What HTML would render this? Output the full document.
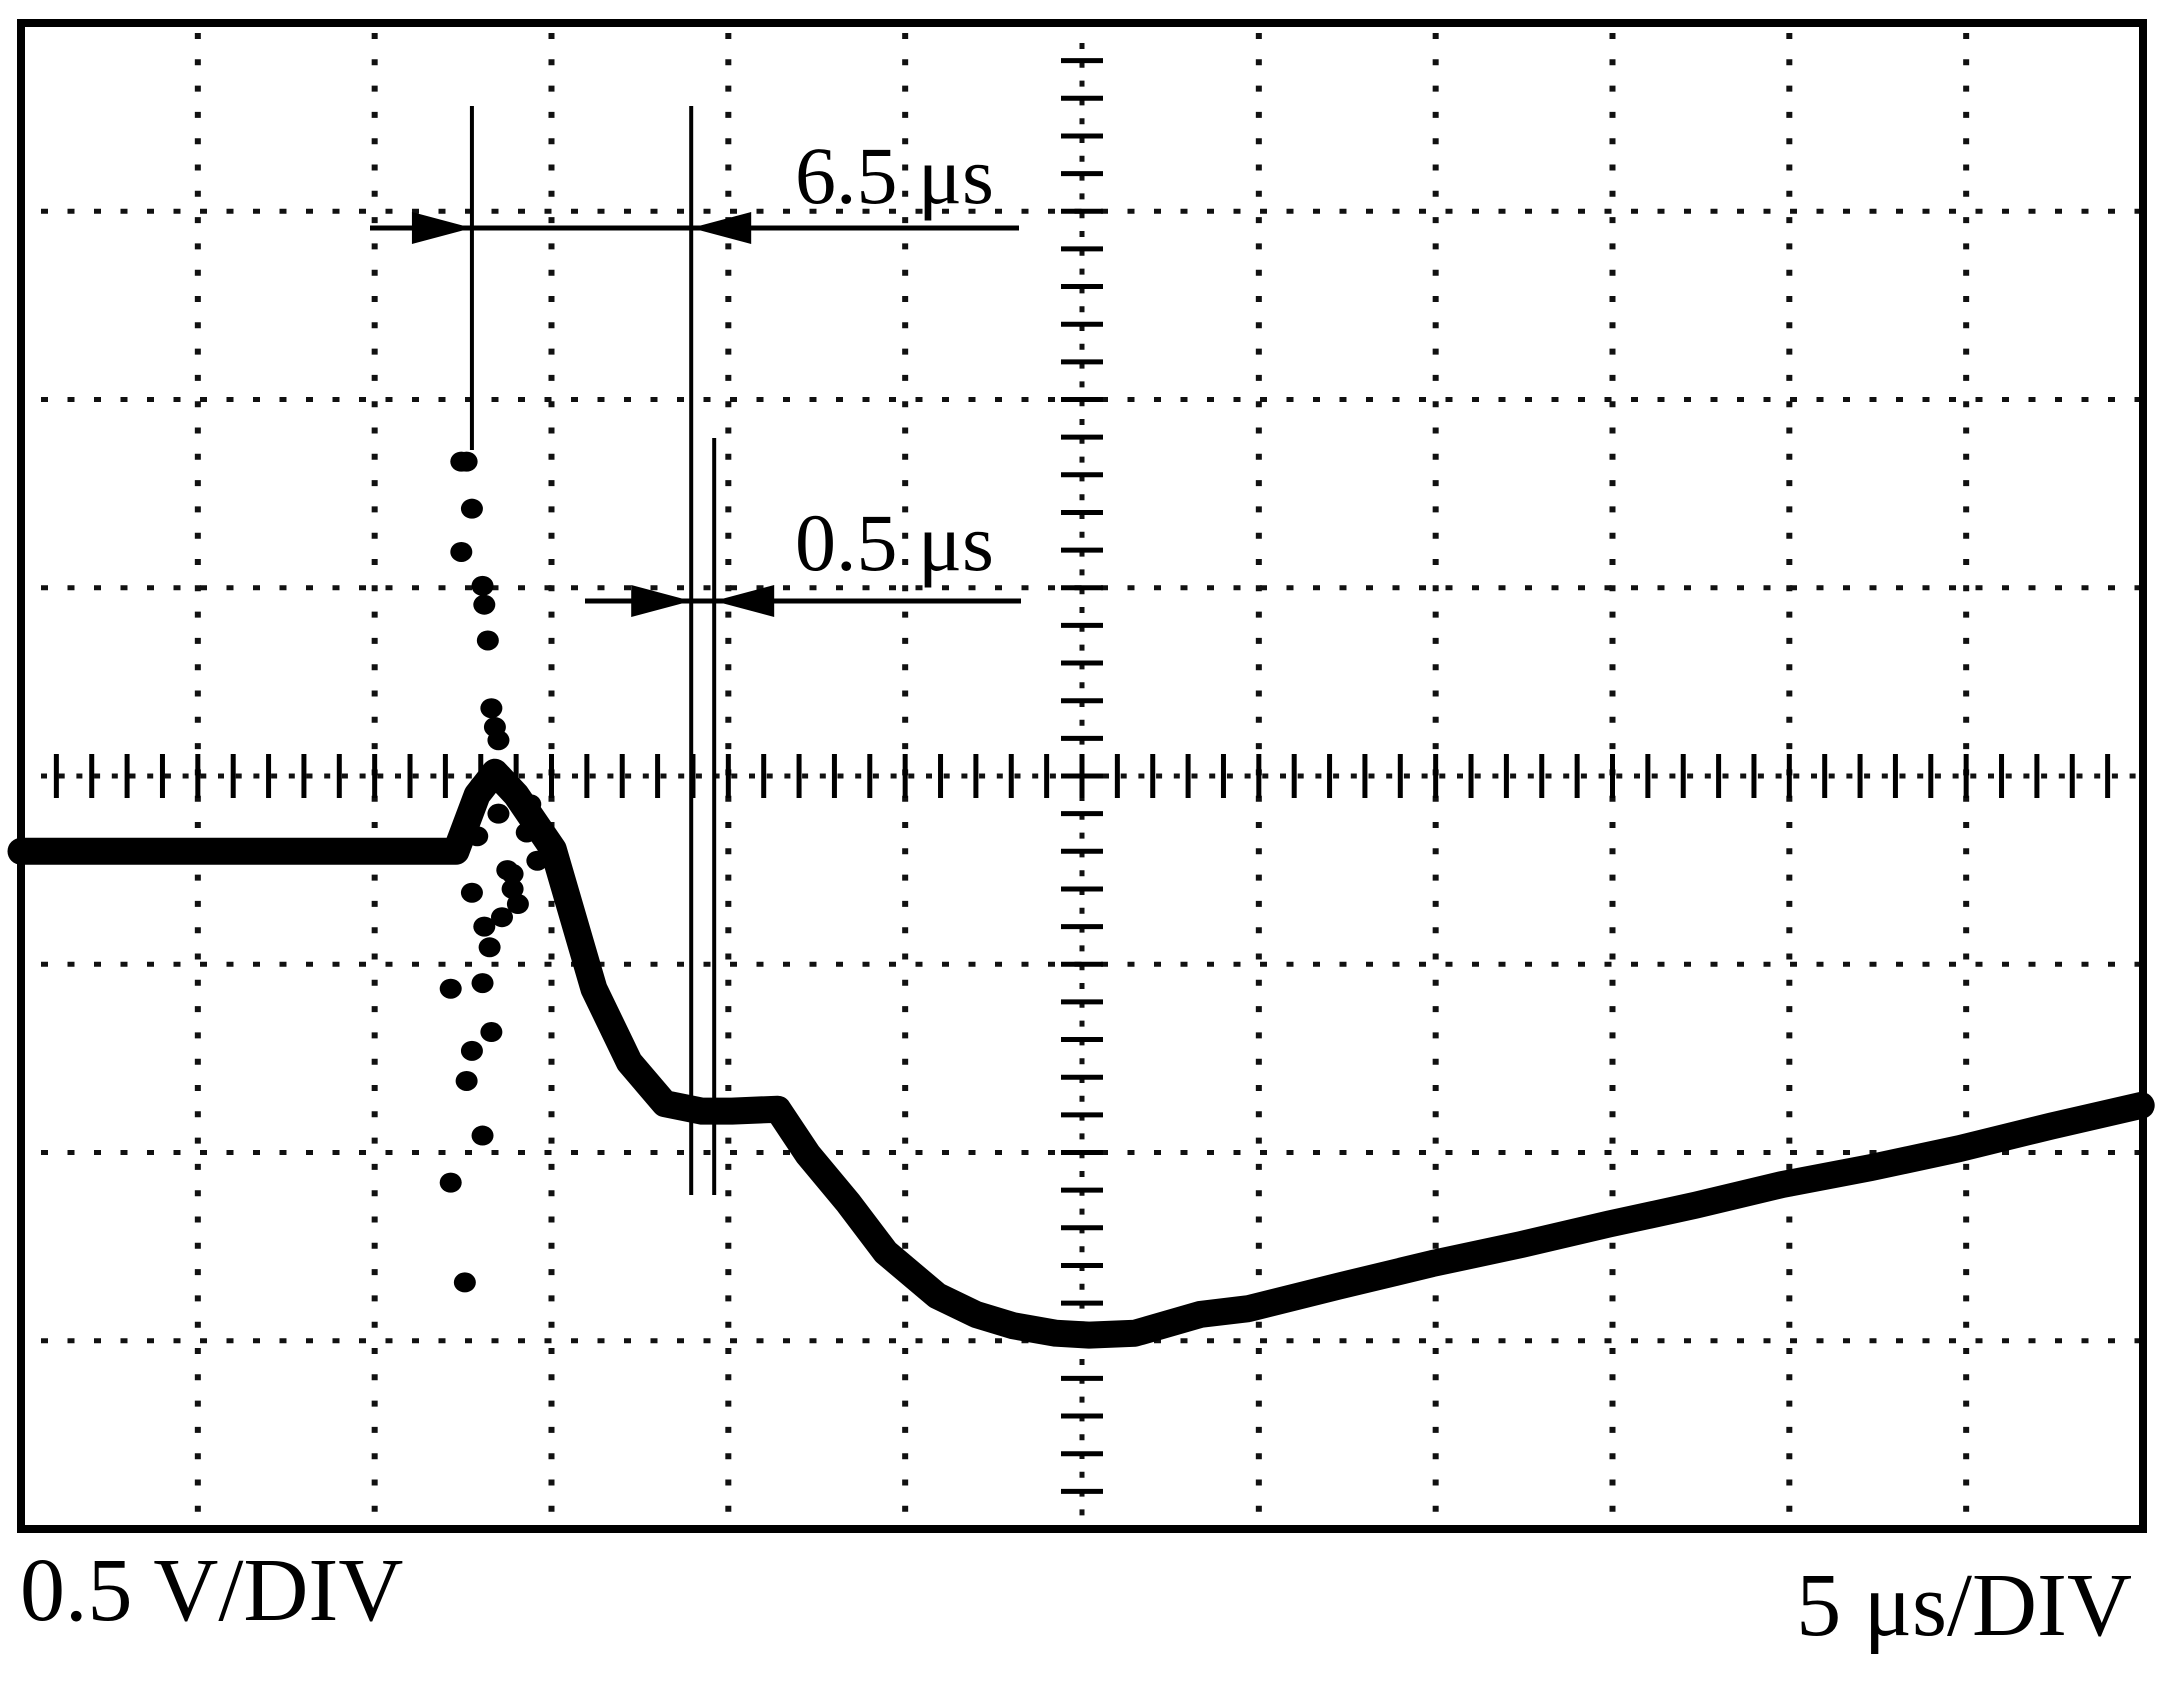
<!DOCTYPE html>
<html><head><meta charset="utf-8"><style>
html,body{margin:0;padding:0;background:#fff;}
svg{display:block;}
text{font-family:"Liberation Serif",serif;fill:#000;}
</style></head><body>
<svg id="scope" width="2177" height="1687" viewBox="0 0 2177 1687" xmlns="http://www.w3.org/2000/svg">
<rect x="0" y="0" width="2177" height="1687" fill="#fff"/>
<g id="grid"></g>
<g id="axes"></g>
<g id="trace"></g>
<g id="cursors"></g>
<rect x="21" y="23" width="2122" height="1506" fill="none" stroke="#000" stroke-width="8"/>
<text x="20" y="1620" font-size="90">0.5 V/DIV</text>
<text x="2132" y="1635" font-size="90" text-anchor="end">5 μs/DIV</text>
</svg>
<script>
// waveform data in divisions (x: 0..12 time divs, y: 0..8 from top)
const traceX = [0, 1.0, 2.0, 2.46, 2.58, 2.68, 2.80, 3.01, 3.24, 3.44, 3.64, 3.85, 4.02, 4.28, 4.45, 4.68, 4.89, 5.18, 5.40, 5.61, 5.85, 6.04, 6.30, 6.67, 6.94, 7.45, 7.98, 8.48, 8.98, 9.47, 9.96, 10.46, 10.96, 11.48, 11.99];
const traceY = [4.40, 4.40, 4.40, 4.40, 4.10, 3.98, 4.10, 4.39, 5.13, 5.52, 5.74, 5.78, 5.78, 5.77, 6.01, 6.27, 6.53, 6.76, 6.86, 6.92, 6.96, 6.97, 6.96, 6.86, 6.83, 6.71, 6.59, 6.49, 6.38, 6.28, 6.17, 6.08, 5.98, 5.86, 5.75];
const scatterX = [2.49, 2.52, 2.55, 2.49, 2.61, 2.62, 2.64, 2.66, 2.68, 2.70, 2.55, 2.43, 2.61, 2.66, 2.55, 2.52, 2.61, 2.43, 2.51, 2.72, 2.65, 2.81, 2.78, 2.52, 2.58, 2.75, 2.62, 2.70, 2.86, 2.92, 2.60, 2.78, 2.88];
const scatterY = [2.33, 2.33, 2.58, 2.81, 2.99, 3.09, 3.28, 3.64, 3.74, 3.81, 4.62, 5.13, 5.10, 5.36, 5.46, 5.62, 5.91, 6.16, 6.69, 4.75, 4.91, 4.68, 4.52, 4.22, 4.32, 4.50, 4.80, 4.20, 4.30, 4.45, 4.05, 4.60, 4.15];
const gridCols = 12, gridRows = 8;
const cursorTimes = [2.55, 3.79, 3.92];
const labels65 = "6.5 μs", labels05 = "0.5 μs";

const L = 21, T = 23, W = 2122, H = 1506;
const sx = d => L + d * W / gridCols;
const sy = d => T + d * H / gridRows;
const NS = "http://www.w3.org/2000/svg";
function mk(tag, attrs, parent) {
  const e = document.createElementNS(NS, tag);
  for (const k in attrs) e.setAttribute(k, attrs[k]);
  parent.appendChild(e);
  return e;
}
const grid = document.getElementById('grid');
for (let i = 1; i < gridCols; i++) {
  if (i === 6) continue;
  const l = mk('line', {x1: sx(i), y1: T + 10, x2: sx(i), y2: T + H, stroke: '#111', 'stroke-width': 6, 'stroke-dasharray': '6 20.3'}, grid);
  
  
}
for (let j = 1; j < gridRows; j++) {
  if (j === 4) continue;
  const l = mk('line', {x1: L + 20, y1: sy(j), x2: L + W, y2: sy(j), stroke: '#111', 'stroke-width': 5, 'stroke-dasharray': '7 19.5'}, grid);
  
  
}
const axes = document.getElementById('axes');
const cx = sx(6), cy = sy(4);
let a = mk('line', {x1: L + 20, y1: cy, x2: L + W, y2: cy, stroke: '#111', 'stroke-width': 5, 'stroke-dasharray': '6 11.7'}, axes);


a = mk('line', {x1: cx, y1: T + 20, x2: cx, y2: T + H, stroke: '#111', 'stroke-width': 5, 'stroke-dasharray': '6 12.8'}, axes);


for (let k = 1; k < gridCols * 5; k++) {
  const x = sx(k / 5);
  const t = mk('line', {x1: x, y1: cy - 22, x2: x, y2: cy + 22, stroke: '#000', 'stroke-width': 5}, axes);
  
  
}
for (let k = 1; k < gridRows * 5; k++) {
  const y = sy(k / 5);
  const t = mk('line', {x1: cx - 21, y1: y, x2: cx + 21, y2: y, stroke: '#000', 'stroke-width': 5}, axes);
  
  
}
const trace = document.getElementById('trace');
let d = '';
traceX.forEach((v, i) => { d += (i ? 'L' : 'M') + sx(v).toFixed(1) + ' ' + sy(traceY[i]).toFixed(1); });
const p = mk('path', {d: d, fill: 'none', stroke: '#000', 'stroke-width': 27, 'stroke-linejoin': 'round', 'stroke-linecap': 'round'}, trace);


scatterX.forEach((v, i) => {
  const c = mk('ellipse', {cx: sx(v), cy: sy(scatterY[i]), rx: 11, ry: 10, fill: '#000'}, trace);
  
  
});
const cur = document.getElementById('cursors');
const c1 = sx(cursorTimes[0]), c2 = sx(cursorTimes[1]), c3 = sx(cursorTimes[2]);
function ln(x1, y1, x2, y2, name, w) {
  const l = mk('line', {x1: x1, y1: y1, x2: x2, y2: y2, stroke: '#000', 'stroke-width': w || 4}, cur);
  
  
}
ln(c1, 106, c1, 450, 'cursor-1');
ln(c2, 106, c2, 1195, 'cursor-2');
ln(c3, 438, c3, 1195, 'cursor-3');
ln(370, 228, 1019, 228, 'dimension-line-6-5', 5);
ln(585, 601, 1021, 601, 'dimension-line-0-5', 5);
function arrow(tip, y, dir, name) {
  const b = tip - dir * 60;
  const ar = mk('polygon', {points: `${tip},${y} ${b},${y - 16} ${b},${y + 16}`, fill: '#000'}, cur);
  
  
}
arrow(c1, 228, 1, 'arrow-6-5-left');
arrow(c2, 228, -1, 'arrow-6-5-right');
arrow(c2, 601, 1, 'arrow-0-5-left');
arrow(c3, 601, -1, 'arrow-0-5-right');
let tx = mk('text', {x: 795, y: 203, 'font-size': 82}, cur);
tx.textContent = labels65;


tx = mk('text', {x: 795, y: 570, 'font-size': 82}, cur);
tx.textContent = labels05;


</script>
</body></html>
